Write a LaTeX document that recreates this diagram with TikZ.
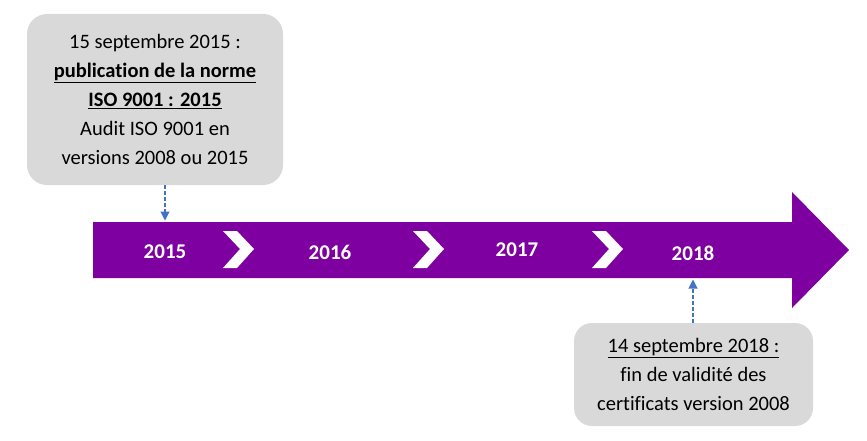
\documentclass[tikz,border=0pt]{standalone}
\usepackage{fontspec}
\setmainfont{Carlito}[Ligatures=NoCommon]
\usetikzlibrary{arrows.meta}

\definecolor{timeline}{RGB}{127,0,160}
\definecolor{notegray}{RGB}{217,217,217}
\definecolor{linkblue}{RGB}{68,114,196}

\tikzset{
  note/.style={fill=notegray, align=center, inner sep=0pt,
    font=\fontsize{20.5}{29}\selectfont},
  year/.style={text=white, font=\bfseries\fontsize{21}{25}\selectfont},
  notelink/.style={linkblue, line width=1.1pt, dash pattern=on 4pt off 2pt,
    -{Triangle[width=9pt,length=9pt]}, shorten >=1.5pt},
}

\begin{document}
\begin{tikzpicture}[x=1pt,y=-1pt]
	  \useasboundingbox (0,0) rectangle (867,441);
	
	  % Timeline arrow
	  \fill[timeline] (93,222) -- (792,222) -- (792,192) -- (849,250)
	    -- (792,308) -- (792,278) -- (93,278) -- cycle;
	  \coordinate (bodytop) at (0,222);
	  \coordinate (bodybottom) at (0,278);
	
	  % Chevrons between the years
	  \foreach \x in {223,413,592}
	    \fill[white] (\x,231) -- ++(14,0) -- ++(17,18) -- ++(-17,19)
	      -- ++(-14,0) -- ++(17,-19) -- cycle;
	
	  % Years
	  \node[year] (y2015) at (165,252) {2015};
	  \node[year] (y2016) at (330,252) {2016};
	  \node[year] (y2017) at (517,250) {2017};
	  \node[year] (y2018) at (693,253) {2018};
	
	  % Notes
	  \node[note, rounded corners=20pt, minimum width=256pt, minimum height=171pt]
	    (topnote) at (155,99.5) {15 septembre 2015 :\\
	    \underline{\textbf{publication de la norme}}\\
	    \underline{\textbf{ISO 9001 : 2015}}\\
	    Audit ISO 9001 en\\
	    versions 2008 ou 2015};
	  \node[note, rounded corners=18pt, minimum width=239pt, minimum height=103pt]
	    (endnote) at (693.5,374.5) {\underline{14 septembre 2018 :}\\
	    fin de validit\'e des\\
	    certificats version 2008};
	
	  % Links to the timeline
	  \draw[notelink] (topnote.south -| y2015) -- (y2015 |- bodytop);
	  \draw[notelink] (endnote.north -| y2018) -- (y2018 |- bodybottom);
	\end{tikzpicture}
\end{document}
